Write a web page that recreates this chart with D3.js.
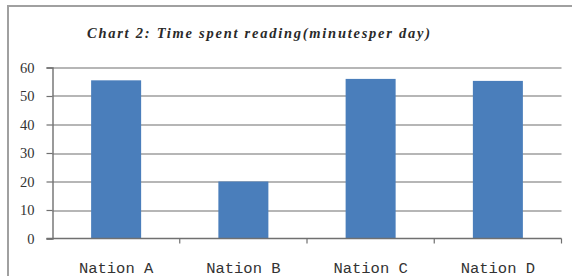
<!DOCTYPE html>
<html>
<head>
<meta charset="utf-8">
<script src="https://cdn.jsdelivr.net/npm/d3@7/dist/d3.min.js"></script>
<style>
  body { margin: 0; background: #fff; }
  svg { display: block; }
</style>
</head>
<body>
<svg id="chart" width="572" height="276"></svg>
<script>
// chart values
var nations = ["Nation A", "Nation B", "Nation C", "Nation D"];
var minutes = [55.5, 20, 56, 55.3];
var yTicks = [0, 10, 20, 30, 40, 50, 60];
var title = "Chart 2: Time spent reading(minutesper day)";

var svg = d3.select("#chart");
var margin = {left: 52.5, right: 10.5, top: 67.5, bottom: 37.5};
var width = 572 - margin.left - margin.right,
    height = 276 - margin.top - margin.bottom;

// outer frame, runs off the right and bottom of the picture
svg.append("rect")
  .attr("x", 8).attr("y", 6)
  .attr("width", 600).attr("height", 300)
  .attr("fill", "#fff")
  .attr("stroke", "#a0a0a0")
  .attr("stroke-width", 2);

svg.append("text")
  .attr("x", 87).attr("y", 38)
  .attr("textLength", 343)
  .attr("lengthAdjust", "spacing")
  .style("font-family", "'Liberation Serif', serif")
  .style("font-style", "italic")
  .style("font-weight", "bold")
  .style("font-size", "14.5px")
  .attr("fill", "#2a2a2a")
  .text(title);

var g = svg.append("g")
  .attr("transform", "translate(" + margin.left + "," + margin.top + ")");

var x = d3.scaleBand()
  .domain(nations)
  .range([0, width])
  .paddingInner(0.607)
  .paddingOuter(0.3035);

var y = d3.scaleLinear()
  .domain([0, 60])
  .range([height, 0]);

// gridlines
g.append("g")
  .selectAll("line")
  .data(yTicks.slice(1))
  .enter().append("line")
  .attr("x1", 0).attr("x2", width)
  .attr("y1", function(d) { return Math.round(y(d)) + 0.5; })
  .attr("y2", function(d) { return Math.round(y(d)) + 0.5; })
  .attr("stroke", "#6e6e6e")
  .attr("stroke-width", 1.2);

// bars
g.append("g")
  .selectAll("rect")
  .data(minutes)
  .enter().append("rect")
  .attr("x", function(d, i) { return x(nations[i]); })
  .attr("width", x.bandwidth())
  .attr("y", function(d) { return y(d); })
  .attr("height", function(d) { return height - y(d); })
  .attr("fill", "#4a7ebb");

// y axis
var yAxis = g.append("g")
  .call(d3.axisLeft(y).tickValues(yTicks).tickSize(6).tickPadding(12).tickFormat(d3.format("d")));
yAxis.attr("font-family", null);
yAxis.select(".domain").attr("stroke", "#707070").attr("stroke-width", 1.4);
yAxis.selectAll(".tick line").attr("stroke", "#707070").attr("stroke-width", 1.2);
yAxis.selectAll(".tick text")
  .style("font-family", "'Liberation Serif', serif")
  .style("font-size", "14.5px")
  .attr("fill", "#333");

// x axis with ticks at band boundaries
var xAxis = g.append("g")
  .attr("transform", "translate(0," + height + ")");
xAxis.append("line")
  .attr("x1", -6).attr("x2", width)
  .attr("stroke", "#707070").attr("stroke-width", 1.4);
xAxis.selectAll(".sep")
  .data(nations)
  .enter().append("line")
  .attr("class", "sep")
  .attr("x1", function(d) { return x(d) + x.bandwidth() / 2 + x.step() / 2; })
  .attr("x2", function(d) { return x(d) + x.bandwidth() / 2 + x.step() / 2; })
  .attr("y1", 0).attr("y2", 5)
  .attr("stroke", "#707070").attr("stroke-width", 1.2);
xAxis.selectAll(".lbl")
  .data(nations)
  .enter().append("text")
  .attr("class", "lbl")
  .attr("x", function(d) { return x(d) + x.bandwidth() / 2; })
  .attr("y", 34)
  .attr("text-anchor", "middle")
  .style("font-family", "'Liberation Mono', monospace")
  .style("font-size", "15.5px")
  .attr("fill", "#333")
  .text(function(d) { return d; });
</script>
</body>
</html>
